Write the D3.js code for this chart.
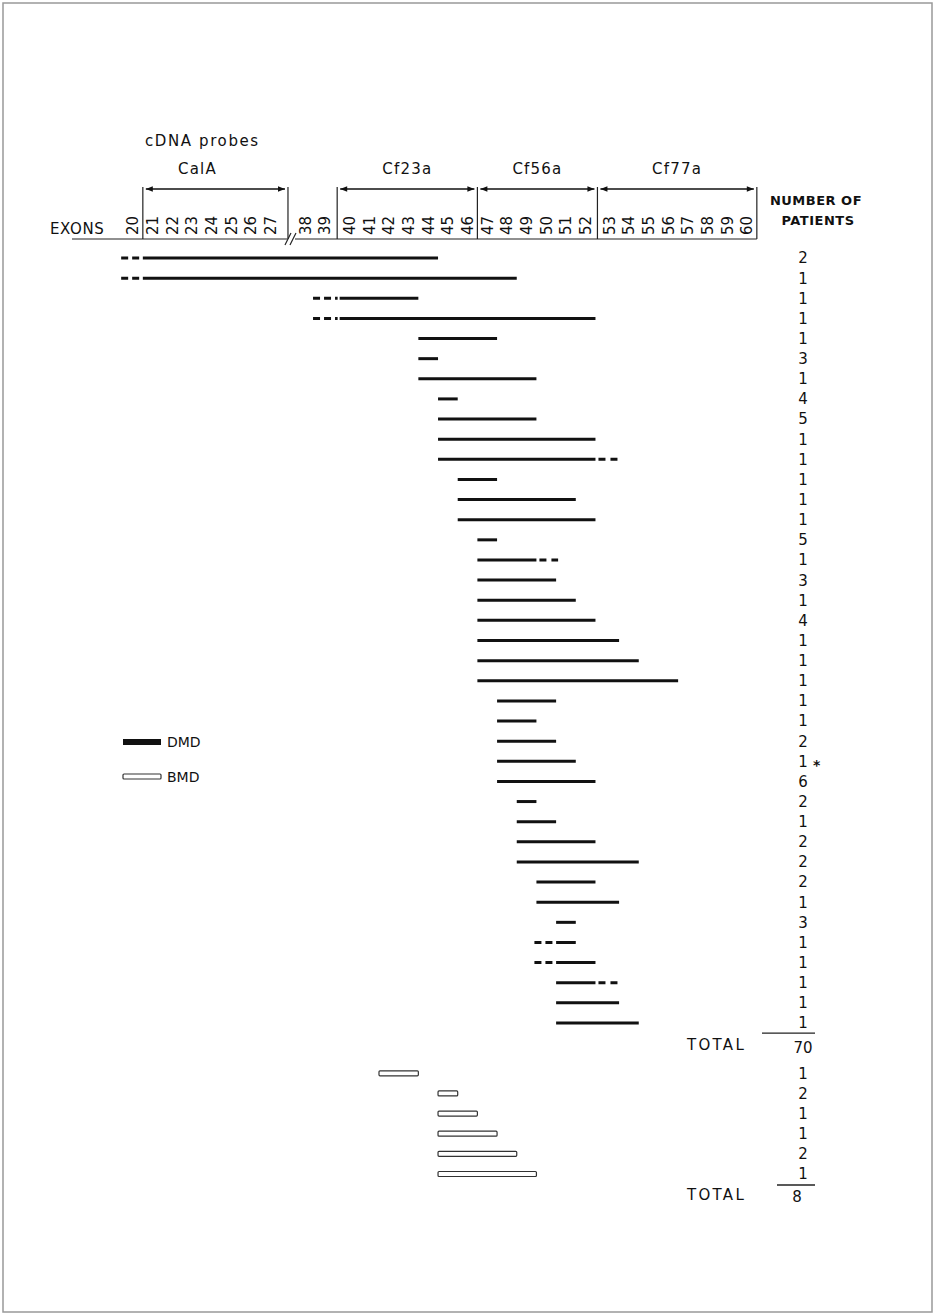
<!DOCTYPE html>
<html>
<head>
<meta charset="utf-8">
<script src="https://cdn.jsdelivr.net/npm/d3@7"></script>
<style>
  html, body { margin: 0; padding: 0; background: #fff; }
  svg { display: block; }
  text { font-family: "DejaVu Sans", sans-serif; fill: #111; }
</style>
</head>
<body>
<div id="chart"></div>
<script>
// ---------------- data ----------------
const exons = [20,21,22,23,24,25,26,27,38,39,40,41,42,43,44,45,46,47,48,49,50,51,52,53,54,55,56,57,58,59,60];
const probes = ["CalA", "Cf23a", "Cf56a", "Cf77a"];
const probeFirst = [21, 40, 47, 53];
const probeLast  = [27, 46, 52, 60];

// DMD deletions (first / last deleted exon, solid part)
const dmdStart = [21,21,40,40,44,44,44,45,45,45,45,46,46,46,47,47,47,47,47,47,47,47,48,48,48,48,48,49,49,49,49,50,50,51,51,51,51,51,51];
const dmdEnd   = [44,48,43,52,47,44,49,45,49,52,52,47,51,52,47,49,50,51,52,53,54,56,50,49,50,51,52,49,50,52,54,52,53,51,51,52,52,53,54];
const dmdPatients = [2,1,1,1,1,3,1,4,5,1,1,1,1,1,5,1,3,1,4,1,1,1,1,1,2,1,6,2,1,2,2,2,1,3,1,1,1,1,1];
// uncertain extension (dashed): [row, exon]
const dmdDashLeft  = [[0,20],[1,20],[2,39],[3,39],[34,50],[35,50]];
const dmdDashRight = [[10,53],[15,50],[36,53]];
const asteriskRows = [25];
const dmdTotal = 70;

// BMD deletions
const bmdStart = [42,45,45,45,45,45];
const bmdEnd   = [43,45,46,47,48,49];
const bmdPatients = [1,2,1,1,2,1];
const bmdTotal = 8;

// ---------------- layout ----------------
const W = 936, H = 1316;
const svg = d3.select("#chart").append("svg").attr("width", W).attr("height", H);

svg.append("rect").attr("x", 3).attr("y", 3).attr("width", 929).attr("height", 1309)
  .attr("fill", "none").attr("stroke", "#999").attr("stroke-width", 1.5);

// exon slot positions (extra spacing at probe boundaries / axis break)
const gapBefore = new Map([[38, 0.75], [40, 0.25], [53, 0.2]]);
const slot = new Map();
let s = -1;
exons.forEach(e => { s += 1 + (gapBefore.get(e) || 0); slot.set(e, s); });
const x = d3.scaleLinear().domain([0, slot.get(60)]).range([133, 747]);
const xe = e => x(slot.get(e));
const u = x(1) - x(0);
const leftEdge = e => xe(e) - u / 2;
const rightEdge = e => xe(e) + u / 2;
function boundaryAfter(e) {
  const i = exons.indexOf(e);
  if (i === exons.length - 1) return xe(e) + u / 2;
  return (xe(e) + xe(exons[i + 1])) / 2;
}
function boundaryBefore(e) {
  const i = exons.indexOf(e);
  if (i === 0) return xe(e) - u / 2;
  return (xe(e) + xe(exons[i - 1])) / 2;
}

const row = d3.scaleLinear().domain([0, 38]).range([258, 1023]);
const bmdRow = i => row(40.5 + i);
const numX = 803;

// ---------------- header ----------------
svg.append("text").attr("x", 145).attr("y", 146).attr("font-size", 15)
  .attr("letter-spacing", 1.6).text("cDNA probes");

const axisY = 239, arrowY = 189, divTop = 187;
const defs = svg.append("defs");
["start", "end"].forEach(k => {
  defs.append("marker").attr("id", "ah-" + k)
    .attr("viewBox", "0 0 10 10").attr("refX", k === "end" ? 10 : 0).attr("refY", 5)
    .attr("markerWidth", 10).attr("markerHeight", 7).attr("markerUnits", "userSpaceOnUse")
    .attr("orient", "auto")
    .append("path")
    .attr("d", k === "end" ? "M0,1 L10,5 L0,9 Z" : "M10,1 L0,5 L10,9 Z")
    .attr("fill", "#111");
});

const probeLabelShift = [-18, 0, 0, 0];
probes.forEach((p, i) => {
  const l = boundaryBefore(probeFirst[i]);
  const r = boundaryAfter(probeLast[i]);
  svg.append("line").attr("x1", l + 3).attr("x2", r - 3).attr("y1", arrowY).attr("y2", arrowY)
    .attr("stroke", "#111").attr("stroke-width", 1.5)
    .attr("marker-start", "url(#ah-start)").attr("marker-end", "url(#ah-end)");
  svg.append("text").attr("x", (l + r) / 2 + probeLabelShift[i]).attr("y", 174).attr("text-anchor", "middle")
    .attr("font-size", 15).attr("letter-spacing", 1.2).text(p);
});

// dividers
const dividerX = [boundaryBefore(21), boundaryAfter(27), boundaryBefore(40), boundaryAfter(46), boundaryAfter(52), boundaryAfter(60)];
svg.selectAll("line.div").data(dividerX).join("line").attr("class", "div")
  .attr("x1", d => d).attr("x2", d => d).attr("y1", divTop).attr("y2", axisY)
  .attr("stroke", "#222").attr("stroke-width", 1.2);

// axis line with break
const breakX = boundaryAfter(27) + 3;
svg.append("line").attr("x1", 72).attr("x2", breakX - 4).attr("y1", axisY).attr("y2", axisY)
  .attr("stroke", "#222").attr("stroke-width", 1.2);
svg.append("line").attr("x1", breakX + 4).attr("x2", boundaryAfter(60)).attr("y1", axisY).attr("y2", axisY)
  .attr("stroke", "#222").attr("stroke-width", 1.2);
[-3, 2].forEach(o => {
  svg.append("line").attr("x1", breakX + o - 3).attr("y1", axisY + 6)
    .attr("x2", breakX + o + 3).attr("y2", axisY - 6)
    .attr("stroke", "#222").attr("stroke-width", 1.2);
});

svg.append("text").attr("x", 50).attr("y", 234).attr("font-size", 15).attr("letter-spacing", 0.6).text("EXONS");

// exon labels (rotated)
svg.selectAll("text.exon").data(exons).join("text").attr("class", "exon")
  .attr("transform", d => `translate(${xe(d)},235) rotate(-90)`)
  .attr("dy", "0.36em").attr("font-size", 15).text(d => d);

// patients header
svg.append("text").attr("x", 816).attr("y", 205).attr("text-anchor", "middle")
  .attr("font-size", 13).attr("font-weight", "bold").attr("letter-spacing", 0.5).text("NUMBER OF");
svg.append("text").attr("x", 818).attr("y", 225).attr("text-anchor", "middle")
  .attr("font-size", 13).attr("font-weight", "bold").attr("letter-spacing", 0.5).text("PATIENTS");

// ---------------- DMD rows ----------------
const dmd = dmdStart.map((a, i) => ({ i, a, b: dmdEnd[i], n: dmdPatients[i] }));
svg.selectAll("line.dmd").data(dmd).join("line").attr("class", "dmd")
  .attr("x1", d => leftEdge(d.a)).attr("x2", d => rightEdge(d.b))
  .attr("y1", d => row(d.i)).attr("y2", d => row(d.i))
  .attr("stroke", "#111").attr("stroke-width", 3);

svg.selectAll("line.dl").data(dmdDashLeft).join("line").attr("class", "dl")
  .attr("x1", d => leftEdge(d[1]) - 2).attr("x2", d => leftEdge(dmdStart[d[0]]) - 2)
  .attr("y1", d => row(d[0])).attr("y2", d => row(d[0]))
  .attr("stroke", "#111").attr("stroke-width", 3).attr("stroke-dasharray", "7,4");
svg.selectAll("line.dr").data(dmdDashRight).join("line").attr("class", "dr")
  .attr("x1", d => rightEdge(dmdEnd[d[0]]) + 3).attr("x2", d => rightEdge(d[1]) + 2)
  .attr("y1", d => row(d[0])).attr("y2", d => row(d[0]))
  .attr("stroke", "#111").attr("stroke-width", 3).attr("stroke-dasharray", "7,5");

svg.selectAll("text.dn").data(dmd).join("text").attr("class", "dn")
  .attr("x", numX).attr("y", d => row(d.i)).attr("dy", "0.36em")
  .attr("text-anchor", "middle").attr("font-size", 15).text(d => d.n);

svg.selectAll("text.ast").data(asteriskRows).join("text").attr("class", "ast")
  .attr("x", numX + 10).attr("y", d => row(d) + 9).attr("font-size", 14).attr("font-weight", "bold").text("*");

// total DMD
svg.append("line").attr("x1", 762).attr("x2", 815).attr("y1", row(38.5)).attr("y2", row(38.5))
  .attr("stroke", "#222").attr("stroke-width", 1.3);
svg.append("text").attr("x", numX).attr("y", row(39.2)).attr("dy", "0.36em").attr("text-anchor", "middle")
  .attr("font-size", 15).text(dmdTotal);
svg.append("text").attr("x", 687).attr("y", row(39.05)).attr("dy", "0.36em")
  .attr("font-size", 15).attr("letter-spacing", 2.3).text("TOTAL");

// ---------------- BMD rows ----------------
const bmd = bmdStart.map((a, i) => ({ i, a, b: bmdEnd[i], n: bmdPatients[i] }));
svg.selectAll("rect.bmd").data(bmd).join("rect").attr("class", "bmd")
  .attr("x", d => leftEdge(d.a)).attr("width", d => rightEdge(d.b) - leftEdge(d.a))
  .attr("y", d => bmdRow(d.i) - 2.5).attr("height", 5).attr("rx", 1)
  .attr("fill", "#fff").attr("stroke", "#333").attr("stroke-width", 1.2);
svg.selectAll("text.bn").data(bmd).join("text").attr("class", "bn")
  .attr("x", numX).attr("y", d => bmdRow(d.i)).attr("dy", "0.36em")
  .attr("text-anchor", "middle").attr("font-size", 15).text(d => d.n);

const t2 = bmdRow(5) + 11;
svg.append("line").attr("x1", 777).attr("x2", 815).attr("y1", t2).attr("y2", t2)
  .attr("stroke", "#222").attr("stroke-width", 1.3);
svg.append("text").attr("x", 797).attr("y", t2 + 12).attr("dy", "0.36em").attr("text-anchor", "middle")
  .attr("font-size", 15).text(bmdTotal);
svg.append("text").attr("x", 687).attr("y", t2 + 10).attr("dy", "0.36em")
  .attr("font-size", 15).attr("letter-spacing", 2.3).text("TOTAL");

// ---------------- legend ----------------
svg.append("rect").attr("x", 123).attr("y", 739).attr("width", 38).attr("height", 6).attr("fill", "#111");
svg.append("text").attr("x", 167).attr("y", 742).attr("dy", "0.36em").attr("font-size", 14).text("DMD");
svg.append("rect").attr("x", 123).attr("y", 774).attr("width", 38).attr("height", 5).attr("rx", 1)
  .attr("fill", "#fff").attr("stroke", "#333").attr("stroke-width", 1.2);
svg.append("text").attr("x", 167).attr("y", 777).attr("dy", "0.36em").attr("font-size", 14).text("BMD");
</script>
</body>
</html>
